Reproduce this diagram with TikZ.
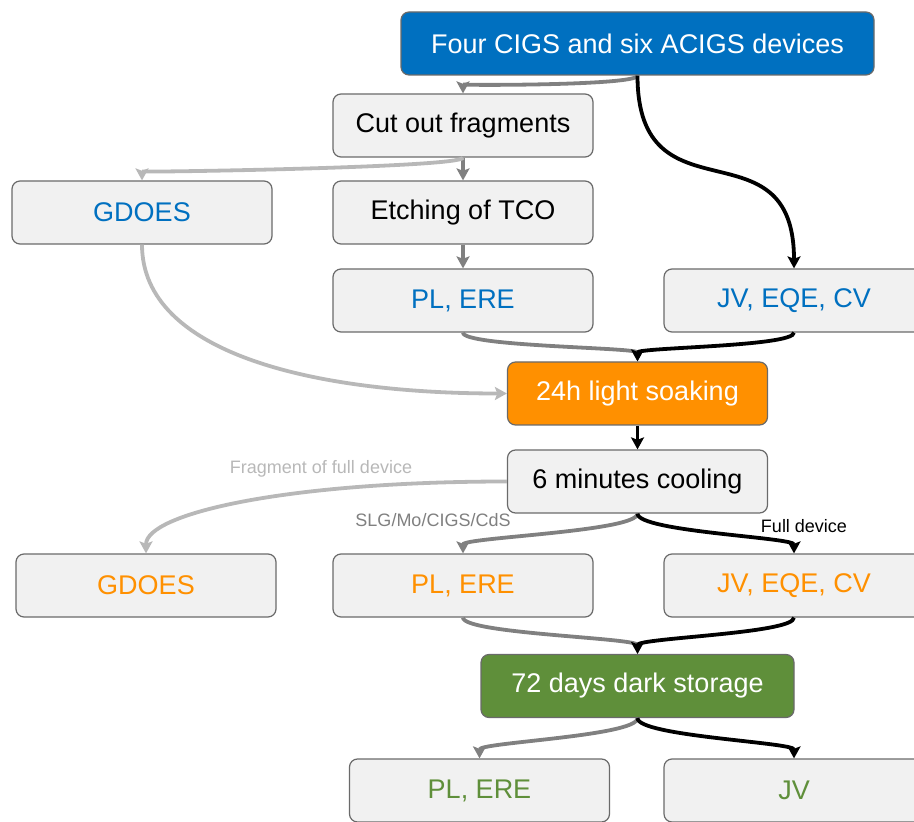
\documentclass[tikz,border=0pt]{standalone}
\usepackage{fontspec}
\setmainfont{Liberation Sans}
\usetikzlibrary{arrows.meta}
\definecolor{cblue}{HTML}{0070C0}
\definecolor{corange}{HTML}{FF9000}
\definecolor{cgreen}{HTML}{5F8F3A}
\definecolor{boxfill}{HTML}{F1F1F1}
\definecolor{boxline}{HTML}{6A6A6A}
\definecolor{midgray}{HTML}{808080}
\definecolor{lightgray}{HTML}{B8B8B8}

\begin{document}
\begin{tikzpicture}[
  x=0.5pt, y=-0.5pt,
  step box/.style={rectangle, draw=boxline, line width=0.6pt, rounded corners=4pt,
                   fill=boxfill, minimum width=130pt, minimum height=31.5pt,
                   align=center, font=\fontsize{13.5}{16}\selectfont},
  blue box/.style={step box, fill=cblue, text=white, minimum width=236.5pt},
  orange box/.style={step box, fill=corange, text=white},
  green box/.style={step box, fill=cgreen, text=white, minimum width=156.5pt},
  arrow/.style={-{Stealth[length=6pt, width=6.5pt, inset=1.2pt]}, line width=1.9pt, midgray},
  blackarrow/.style={arrow, black},
  lightarrow/.style={arrow, lightgray},
  edgelabel/.style={font=\fontsize{9}{11}\selectfont}
]
  \useasboundingbox (0,0) rectangle (914,822);

  % Nodes
  \node[blue box]   (devices) at (637.5,43.5)  {Four CIGS and six ACIGS devices};
  \node[step box]   (cut)     at (463,125.5)   {Cut out fragments};
  \node[step box, text=cblue] (gdoesA) at (142,212.5) {GDOES};
  \node[step box]   (etch)    at (463,212.5)   {Etching of TCO};
  \node[step box, text=cblue] (plA)    at (463,300.5) {PL, ERE};
  \node[step box, text=cblue] (jvA)    at (794,300.5) {JV, EQE, CV};
  \node[orange box] (soak)    at (637.5,393.5) {24h light soaking};
  \node[step box]   (cool)    at (637.5,481.5) {6 minutes cooling};
  \node[step box, text=corange] (gdoesB) at (146,585.5) {GDOES};
  \node[step box, text=corange] (plB)    at (463,585.5) {PL, ERE};
  \node[step box, text=corange] (jvB)    at (794,585.5) {JV, EQE, CV};
  \node[green box]  (dark)    at (637.5,686)   {72 days dark storage};
  \node[step box, text=cgreen] (plC)     at (479.5,790.5) {PL, ERE};
  \node[step box, text=cgreen] (jvC)     at (794,790.5)   {JV};

  % Before light soaking
  \draw[arrow] (devices.south) .. controls +(0,10) and +(0,-8) .. (cut.north);
  \draw[blackarrow] (devices.south) .. controls +(0,150) and +(0,-150) .. (jvA.north);
  \draw[arrow] (cut.south) -- (etch.north);
  \draw[lightarrow] (cut.south) .. controls +(0,10) and +(0,-8) .. (gdoesA.north);
  \draw[arrow] (etch.south) -- (plA.north);
  \draw[lightarrow] (gdoesA.south) .. controls +(0,110) and +(-190,0) .. (soak.west);
  \draw[arrow] (plA.south) .. controls +(0,14) and +(0,-14) .. (soak.north);
  \draw[blackarrow] (jvA.south) .. controls +(0,14) and +(0,-14) .. (soak.north);
  \draw[blackarrow] (soak.south) -- (cool.north);

  % After light soaking
  \draw[lightarrow] (cool.west) .. controls +(-220,0) and +(0,-40) .. (gdoesB.north);
  \node[edgelabel, text=lightgray] (fraglabel) at (321,469) {Fragment of full device};
  \draw[arrow] (cool.south) .. controls +(0,18) and +(0,-16) .. (plB.north);
  \node[edgelabel, text=midgray] (stacklabel) at (433,520) {SLG/Mo/CIGS/CdS};
  \draw[blackarrow] (cool.south) .. controls +(0,18) and +(0,-16) .. (jvB.north);
  \node[edgelabel] (fulllabel) at (804,526) {Full device};
  \draw[arrow] (plB.south) .. controls +(0,16) and +(0,-16) .. (dark.north);
  \draw[blackarrow] (jvB.south) .. controls +(0,16) and +(0,-16) .. (dark.north);

  % After dark storage
  \draw[arrow] (dark.south) .. controls +(0,18) and +(0,-16) .. (plC.north);
  \draw[blackarrow] (dark.south) .. controls +(0,18) and +(0,-16) .. (jvC.north);
\end{tikzpicture}
\end{document}
